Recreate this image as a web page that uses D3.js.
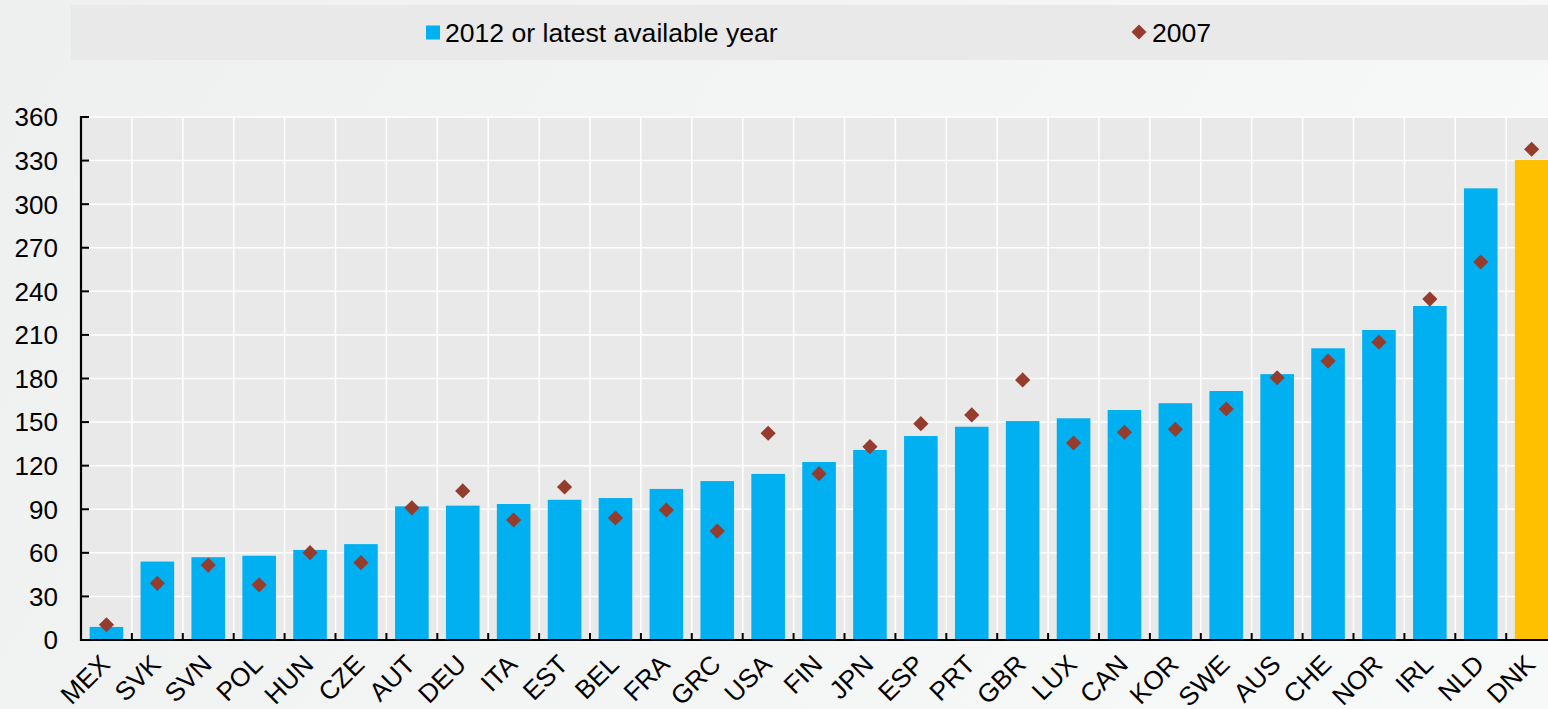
<!DOCTYPE html>
<html><head><meta charset="utf-8">
<script src="https://cdn.jsdelivr.net/npm/d3@7"></script>
<style>body{margin:0;overflow:hidden;background:#f4f5f5}svg{display:block;font-family:"Liberation Sans",Arial,Helvetica,sans-serif}</style>
</head><body><svg id="c" width="1548" height="709"></svg>
<script>
const categories = ["MEX","SVK","SVN","POL","HUN","CZE","AUT","DEU","ITA","EST","BEL","FRA","GRC","USA","FIN","JPN","ESP","PRT","GBR","LUX","CAN","KOR","SWE","AUS","CHE","NOR","IRL","NLD","DNK"];
const values2012 = [9,54,57,58,62,66,92,92.5,93.6,96.5,97.7,104,109.4,114.3,122.5,130.8,140.4,146.8,150.7,152.6,158.3,163,171.4,183,200.8,213.4,229.9,310.9,330.4];
const values2007 = [10.5,39,51.6,38,60.1,53.2,91,102.6,82.6,105.3,84,89.5,75,142.3,114.5,133.1,148.9,154.9,179,135.6,143,145,159,180.5,192,205,234.7,260.2,337.8];
const yTicks = [0,30,60,90,120,150,180,210,240,270,300,330,360];
const seriesNames = ["2012 or latest available year","2007"];
const highlight = "DNK";

(function(){
const svg = d3.select("#c");
const W = 1548, H = 709;
const defs = svg.append("defs");
const g0 = defs.append("linearGradient").attr("id","bg").attr("x1","0").attr("y1","0").attr("x2","1").attr("y2","0.3");
g0.append("stop").attr("offset","0").attr("stop-color","#eeefef");
g0.append("stop").attr("offset","1").attr("stop-color","#f7f8f8");
svg.append("rect").attr("width",W).attr("height",H).attr("fill","url(#bg)");

// legend band
svg.append("rect").attr("x",71).attr("y",5).attr("width",W-71).attr("height",55).attr("fill","#e9e9e9");

const pLeft = 81, pTop = 117, pBottom = 640;
const step = 50.9;
const x = d3.scaleBand().domain(categories).range([pLeft, pLeft + step*categories.length]).paddingInner(0.34).paddingOuter(0.17);
const y = d3.scaleLinear().domain([0,360]).range([pBottom, pTop]);

// plot bg
svg.append("rect").attr("x",pLeft).attr("y",pTop).attr("width",W-pLeft).attr("height",pBottom-pTop).attr("fill","#e9e9e9");

// gridlines
const grid = svg.append("g");
grid.selectAll("line.h").data(yTicks).join("line").attr("class","h")
  .attr("x1",pLeft).attr("x2",W).attr("y1",d=>y(d)).attr("y2",d=>y(d))
  .attr("stroke","#ffffff").attr("stroke-width",1.5);
const bounds = categories.map((c,i)=> pLeft + x.step()*i).concat([pLeft + x.step()*categories.length]);
grid.selectAll("line.v").data(bounds.slice(1)).join("line").attr("class","v")
  .attr("x1",d=>d).attr("x2",d=>d).attr("y1",pTop).attr("y2",pBottom)
  .attr("stroke","#ffffff").attr("stroke-width",1.5);

// bars
svg.append("g").selectAll("rect").data(categories).join("rect")
  .attr("x",d=>x(d)).attr("width",x.bandwidth())
  .attr("y",(d,i)=>y(values2012[i])).attr("height",(d,i)=>pBottom-y(values2012[i]))
  .attr("fill",d=>d===highlight?"#ffc000":"#00b0f0");

// diamonds
const dsz = 7.6;
const diamond = (cx,cy)=>`M${cx},${cy-dsz}L${cx+dsz},${cy}L${cx},${cy+dsz}L${cx-dsz},${cy}Z`;
svg.append("g").selectAll("path").data(categories).join("path")
  .attr("d",(d,i)=>diamond(x(d)+x.bandwidth()/2, y(values2007[i])))
  .attr("fill","#963c2c");

// axes
const ax = svg.append("g");
ax.append("line").attr("x1",pLeft).attr("x2",pLeft).attr("y1",pTop-1).attr("y2",pBottom+1).attr("stroke","#000").attr("stroke-width",2.2);
ax.append("line").attr("x1",pLeft-1).attr("x2",W).attr("y1",pBottom).attr("y2",pBottom).attr("stroke","#000").attr("stroke-width",2.2);
ax.selectAll("line.yt").data(yTicks).join("line").attr("class","yt")
  .attr("x1",pLeft).attr("x2",pLeft+8).attr("y1",d=>y(d)).attr("y2",d=>y(d)).attr("stroke","#000").attr("stroke-width",2);
ax.selectAll("line.xt").data(bounds.slice(1)).join("line").attr("class","xt")
  .attr("x1",d=>d).attr("x2",d=>d).attr("y1",pBottom-7).attr("y2",pBottom).attr("stroke","#000").attr("stroke-width",2);
ax.selectAll("text.yl").data(yTicks).join("text").attr("class","yl")
  .attr("x",58).attr("y",d=>y(d)).attr("dy","0.36em").attr("text-anchor","end")
  .attr("font-size",26).attr("fill","#000").text(d=>d);
ax.selectAll("text.xl").data(categories).join("text").attr("class","xl")
  .attr("transform",d=>`translate(${x(d)+x.bandwidth()/2+5},${666}) rotate(-45)`)
  .attr("text-anchor","end").attr("font-size",26).attr("fill","#000").text(d=>d);

// legend
const lg = svg.append("g");
lg.append("rect").attr("x",426).attr("y",25.5).attr("width",14).attr("height",14).attr("fill","#00b0f0");
lg.append("text").attr("x",445).attr("y",41.5).attr("font-size",26.6).attr("fill","#000").text(seriesNames[0]);
lg.append("path").attr("d",`M1139,24.5L1146.5,32L1139,39.5L1131.5,32Z`).attr("fill","#963c2c");
lg.append("text").attr("x",1152).attr("y",41.5).attr("font-size",26.6).attr("fill","#000").text(seriesNames[1]);
})();
</script></body></html>
